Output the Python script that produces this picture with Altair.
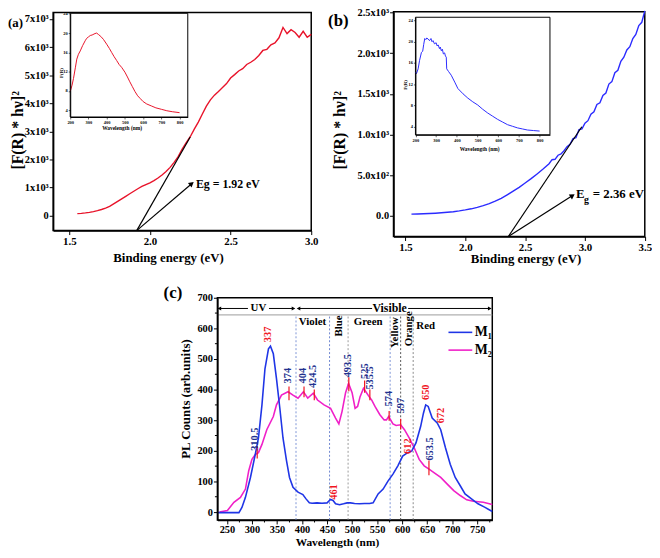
import altair as alt
import pandas as pd

SERIF = "Liberation Serif"
RED = "#e8132a"
BLUE_B = "#2b2bff"
M1_BLUE = "#1f35e6"
M2_PINK = "#f020c8"
LBL_BLUE = "#22318f"
LBL_RED = "#f0151f"

# ---------------- data: panel (a) ----------------
A_E = [1.55, 1.575, 1.60, 1.625, 1.65, 1.675, 1.70, 1.725, 1.75, 1.775, 1.80, 1.825, 1.85, 1.875,
       1.90, 1.925, 1.95, 1.975, 2.00, 2.025, 2.05, 2.075, 2.10, 2.125, 2.15, 2.175, 2.20, 2.225,
       2.25, 2.275, 2.30, 2.325, 2.35, 2.375, 2.40, 2.425, 2.45, 2.475, 2.50, 2.525, 2.55, 2.575,
       2.60, 2.625, 2.65, 2.675, 2.70, 2.725, 2.75, 2.775, 2.80, 2.825, 2.85, 2.875, 2.90, 2.925,
       2.95, 2.975, 3.00]
A_V = [75, 85, 100, 120, 145, 180, 220, 270, 330, 420, 510, 600, 690, 780,
       870, 960, 1040, 1110, 1170, 1250, 1340, 1450, 1570, 1720, 1900, 2100, 2370, 2600,
       2810, 3080, 3330, 3620, 3900, 4120, 4290, 4420, 4560, 4700, 4900, 5020, 5150, 5230,
       5380, 5460, 5560, 5700, 5880, 5920, 6080, 6150, 6330, 6700, 6480, 6620, 6520, 6350,
       6560, 6350, 6450]

# inset (a)
IA_NM = [200, 210, 218, 228, 236, 245, 255, 268, 282, 290, 300, 310, 320, 336, 345, 355, 368, 382,
         400, 415, 427, 441, 455, 468, 482, 500, 514, 527, 541, 555, 570, 585, 600, 620, 645, 670,
         700, 730, 760, 800]
IA_F = [7.9, 9.2, 10.6, 12.8, 14.6, 15.6, 16.3, 17.4, 18.4, 18.9, 19.2, 19.5, 19.6, 19.9, 20.0, 19.7,
        19.3, 18.7, 17.7, 16.8, 16.0, 15.1, 14.3, 13.5, 12.9, 11.9, 10.9, 9.9, 8.9, 7.9, 7.0, 6.4,
        5.8, 5.3, 4.9, 4.5, 4.2, 3.9, 3.7, 3.5]

# ---------------- data: panel (b) ----------------
B_E = [1.55, 1.60, 1.65, 1.70, 1.75, 1.80, 1.85, 1.90, 1.95, 2.00, 2.05, 2.10, 2.15, 2.20, 2.25,
       2.30, 2.35, 2.40, 2.45, 2.50, 2.55, 2.60, 2.65, 2.70, 2.725, 2.75, 2.775, 2.80, 2.825, 2.85,
       2.875, 2.90, 2.925, 2.95, 2.975, 3.00, 3.025, 3.05, 3.075, 3.10, 3.125, 3.15, 3.175, 3.20,
       3.225, 3.25, 3.275, 3.30, 3.325, 3.35, 3.375, 3.40, 3.425, 3.45, 3.475, 3.50]
B_V = [20, 22, 25, 28, 32, 37, 43, 50, 60, 72, 86, 103, 124, 150, 180,
       215, 258, 303, 350, 403, 457, 515, 575, 640, 690, 695, 745, 760, 800, 850,
       880, 950, 960, 1060, 1070, 1140, 1170, 1250, 1280, 1370, 1390, 1480, 1510, 1620,
       1650, 1760, 1790, 1900, 1950, 2040, 2080, 2180, 2230, 2340, 2380, 2520]

# inset (b)
IB_NM = [200, 205, 213, 220, 229, 235, 240, 245, 250, 255, 261, 268, 275, 280, 285, 292, 300, 305,
         310, 316, 320, 325, 330, 335, 341, 345, 349, 351, 360, 373, 390, 405, 430, 453, 477, 501,
         525, 549, 573, 597, 621, 645, 669, 693, 717, 741, 770, 800]
IB_F = [14.3, 14.0, 14.9, 16.5, 18.0, 18.2, 19.5, 20.6, 20.4, 20.7, 20.5, 20.2, 20.6, 20.0, 20.2,
        19.6, 19.8, 19.2, 19.4, 18.7, 19.0, 18.3, 18.6, 17.7, 17.9, 17.3, 17.1, 14.9, 14.4, 13.7,
        12.4, 11.2, 10.2, 9.4, 8.7, 8.1, 7.3, 6.6, 6.0, 5.4, 4.9, 4.4, 4.1, 3.8, 3.6, 3.4, 3.3, 3.2]

# ---------------- data: panel (c) ----------------
M1_NM = [231, 250, 274, 280, 287, 297, 306.6, 313, 320, 326, 333, 337, 342.7, 349, 355.7, 362, 369,
         375, 382, 392, 401.7, 408, 414.6, 420, 430, 440, 450, 457, 462, 467, 475, 483, 490, 497,
         505, 515, 525, 535, 542, 552, 562, 572, 581.6, 591.4, 601, 611, 619, 627.6, 637, 642.5,
         647, 652, 660, 670, 677, 686.5, 696, 706, 716, 725.6, 738.5, 751.5, 764.6, 780]
M1_PL = [-2, -2, -2, 15, 48, 113, 188, 242, 350, 468, 533, 542, 517, 436, 339, 242, 168,
         113, 81, 65, 57, 43, 30, 29, 30, 29, 30, 41, 38, 27, 24, 27, 30, 30,
         28, 27, 28, 28, 30, 59, 75, 102, 124, 151, 183, 194, 199, 226, 280, 323,
         350, 345, 307, 291, 269, 210, 156, 113, 86, 59, 43, 27, 16, 2]
M2_NM = [235, 251, 264, 277, 287, 293.6, 300, 306.6, 313, 320, 329.6, 342.7, 349, 359, 372, 382,
         392, 402.8, 411.5, 422.5, 431, 444, 457, 467, 473.6, 480, 487, 493, 500, 506, 511, 516,
         522.7, 527.5, 534, 539, 545.7, 555.5, 564, 568.6, 573, 581.6, 588, 597, 604.6, 614, 624,
         634, 644, 653.7, 663.5, 677, 689.6, 703, 716, 729, 742, 762, 780]
M2_PL = [0, 5, 32, 48, 75, 135, 172, 188, 194, 221, 269, 312, 350, 382, 393, 382,
         372, 393, 372, 388, 366, 350, 339, 307, 288, 329, 390, 420, 390, 339, 345, 377,
         404, 393, 377, 366, 345, 318, 301, 301, 312, 288, 283, 285, 269, 242, 210,
         172, 151, 140, 129, 113, 92, 70, 54, 40, 35, 32, 25]

PEAK_TEXT = ["310.5", "337", "374", "404", "424.5", "461", "493.5", "525", "535.5",
             "574", "597", "612", "650", "672", "653.5"]
PEAK_X = [306.5, 333, 372.4, 403, 423, 464, 492.7, 525.5, 536.7, 574, 597.9, 611, 648.6, 677, 655]
PEAK_Y = [200, 555, 420, 420, 405, 40, 440, 435, 400, 345, 322, 190, 366, 290, 168]
PEAK_COL = ["b", "r", "b", "b", "b", "r", "b", "b", "b", "b", "b", "r", "r", "r", "b"]

MARK_X = [310.5, 374, 404, 424.5, 493.5, 525, 535.5, 574, 597, 653.5]
MARK_Y0 = [175, 365, 375, 365, 395, 390, 365, 298, 270, 120]
MARK_Y1 = [215, 410, 410, 400, 440, 430, 400, 330, 305, 168]

REGION_X = [388, 455, 492, 576, 597, 622]
REGION_COL = ["#7f95d6", "#6f86d0", "#9a9a9a", "#7f95d6", "#555555", "#8a8a8a"]

# ---------------- geometry (page px) ----------------
W, H = 652, 542


def S(domain, r):
    return alt.Scale(domain=domain, range=[r[0] - 8, r[1] - 8], nice=False, zero=False)


PA = (S([1.4, 3.0], [53.7, 315]), S([-530, 7230], [230, 9.2]))
PB = (S([1.4, 3.5], [398.3, 652.7]), S([-255, 2510], [236, 8.4]))
IA = (S([200, 845], [71, 190]), S([2.6, 24.1], [115, 10]))
IB = (S([200, 850], [420.5, 556.7]), S([2.5, 24.6], [133, 14]))
PC = (S([231, 780], [220, 498.3]), S([-26, 700], [523, 298]))


def ax(orient, values, offset, title, tx, ty, lsize, tsize, tick=4, lpad=1, fmt=None, expr=None, dw=1.5, tw=1):
    kw = dict(orient=orient, values=values, offset=offset, title=title, titleX=tx, titleY=ty,
              grid=False, labelFont=SERIF, labelFontWeight="bold", labelFontSize=lsize,
              labelColor="black", titleFont=SERIF, titleFontWeight="bold", titleFontSize=tsize,
              titleColor="black", tickSize=tick, tickColor="black", tickWidth=tw,
              domainColor="black", domainWidth=dw, labelFlush=False, labelOverlap=False,
              labelPadding=lpad, titleAlign="center", titleBaseline="middle", zindex=1)
    if fmt:
        kw["format"] = fmt
    if expr:
        kw["labelExpr"] = expr
    return alt.Axis(**kw)


def XY(P, xa=None, ya=None, xf="x", yf="y"):
    return dict(x=alt.X(f"{xf}:Q", scale=P[0], axis=xa), y=alt.Y(f"{yf}:Q", scale=P[1], axis=ya))


def seg(P, x0, y0, x1, y1, color="black", width=1.0, dash=None):
    df = pd.DataFrame({"x": x0, "y": y0, "x2": x1, "y2": y1})
    kw = dict(color=color, strokeWidth=width)
    if dash:
        kw["strokeDash"] = dash
    return alt.Chart(df).mark_rule(**kw).encode(**XY(P), x2="x2:Q", y2="y2:Q")


def frame(P, fill=None, width=1.5):
    d = P[0].domain
    e = P[1].domain
    df = pd.DataFrame({"x": [d[0]], "y": [e[0]], "x2": [d[1]], "y2": [e[1]]})
    if fill:
        m = alt.Chart(df).mark_rect(fill=fill, stroke="black", strokeWidth=width)
    else:
        m = alt.Chart(df).mark_rect(fillOpacity=0, stroke="black", strokeWidth=width)
    return m.encode(**XY(P), x2="x2:Q", y2="y2:Q")


def txt(P, xs, ys, texts, size, color="black", align="center", baseline="middle", angle=0, dx=0, dy=0):
    df = pd.DataFrame({"x": xs, "y": ys, "t": texts})
    kw = dict(font=SERIF, fontWeight="bold", fontSize=size, color=color, align=align,
              baseline=baseline, dx=dx, dy=dy)
    if angle:
        kw["angle"] = angle
    return alt.Chart(df).mark_text(**kw).encode(**XY(P), text="t:N")


def head(P, x, y, shape, angle=0, size=40, color="black"):
    df = pd.DataFrame({"x": [x], "y": [y]})
    kw = dict(shape=shape, filled=True, size=size, color=color, opacity=1)
    if angle:
        kw["angle"] = angle
    return alt.Chart(df).mark_point(**kw).encode(**XY(P))


layers = []

# ---------- panel (a) ----------
a_xax = ax("bottom", [1.5, 2.0, 2.5, 3.0], (230 - 8) - H, "Binding energy (eV)", 162, 27, 11, 13, fmt=".1f")
a_yax = ax("left", [0, 1000, 2000, 3000, 4000, 5000, 6000, 7000], -(53.7 - 8), "[F(R) * hν]²",
           -36, 120, 10.5, 16, expr="datum.value == 0 ? '0' : format(datum.value / 1000, 'd') + 'x10³'")
layers.append(frame(PA))
layers.append(alt.Chart(pd.DataFrame({"x": A_E, "y": A_V})).mark_line(color=RED, strokeWidth=1.4)
              .encode(**XY(PA, a_xax, a_yax)))
layers.append(seg(PA, [1.918], [-530], [2.25], [2800], width=1.2))
layers.append(seg(PA, [1.918], [-530], [2.255], [1120], width=1.2))
layers.append(head(PA, 2.255, 1120, "triangle", angle=51, size=35))
layers.append(txt(PA, [2.285], [1140], ["Eg = 1.92 eV"], 12, align="left"))
layers.append(txt(PA, [1.213], [6850], ["(a)"], 13, align="right"))

# inset (a)
ia_xax = ax("bottom", [200, 300, 400, 500, 600, 700, 800], (115 - 8) - H, "Wavelength (nm)", 115, 11,
            4.5, 5.5, tick=2, lpad=1, fmt="d", dw=1, tw=0.6)
ia_yax = ax("left", [4, 8, 12, 16, 20, 24], -(71 - 8), "F(R)", -10, 62, 4.5, 5, tick=2, lpad=1,
            fmt="d", dw=1, tw=0.6)
layers.append(frame(IA, fill="white", width=1))
layers.append(alt.Chart(pd.DataFrame({"x": IA_NM, "y": IA_F})).mark_line(color=RED, strokeWidth=1)
              .encode(**XY(IA, ia_xax, ia_yax)))

# ---------- panel (b) ----------
b_xax = ax("bottom", [1.5, 2.0, 2.5, 3.0, 3.5], (236 - 8) - H, "Binding energy (eV)", 524, 22, 11, 13, fmt=".1f")
b_yax = ax("left", [0, 500, 1000, 1500, 2000, 2500], -(398.3 - 8), "[F(R) * hν]²", -55, 120, 10.5, 16,
           expr="datum.value == 0 ? '0.0' : (datum.value < 1000 ? format(datum.value / 100, '.1f') + 'x10²' : format(datum.value / 1000, '.1f') + 'x10³')")
layers.append(frame(PB))
layers.append(alt.Chart(pd.DataFrame({"x": B_E, "y": B_V})).mark_line(color=BLUE_B, strokeWidth=1.4)
              .encode(**XY(PB, b_xax, b_yax)))
layers.append(seg(PB, [2.36], [-255], [2.974], [1095], width=1.2))
layers.append(seg(PB, [2.36], [-255], [2.89], [243], width=1.2))
layers.append(head(PB, 2.89, 243, "triangle", angle=57, size=35))
layers.append(txt(PB, [2.925], [268], ["E"], 13, align="left"))
layers.append(txt(PB, [2.925], [268], ["g"], 10, align="left", dx=8, dy=6))
layers.append(txt(PB, [2.925], [268], ["= 2.36 eV"], 13, align="left", dx=17))
layers.append(txt(PB, [0.939], [2393], ["(b)"], 17))

# inset (b)
ib_xax = ax("bottom", [200, 300, 400, 500, 600, 700, 800], (133 - 8) - H, "Wavelength (nm)", 477, 14,
            4.5, 5.5, tick=2, lpad=1, fmt="d", dw=1, tw=0.6)
ib_yax = ax("left", [4, 8, 12, 16, 20, 24], -(420.5 - 8), "F(R)", -11, 74, 4.5, 5, tick=2, lpad=1,
            fmt="d", dw=1, tw=0.6)
layers.append(frame(IB, fill="white", width=1))
layers.append(alt.Chart(pd.DataFrame({"x": IB_NM, "y": IB_F})).mark_line(color=BLUE_B, strokeWidth=1)
              .encode(**XY(IB, ib_xax, ib_yax)))

# ---------- panel (c) ----------
c_xax = ax("bottom", [250, 300, 350, 400, 450, 500, 550, 600, 650, 700, 750], (523 - 8) - H,
           "Wavelength (nm)", 333, 23, 10.5, 11.5, fmt="d")
c_yax = ax("left", [0, 100, 200, 300, 400, 500, 600, 700], -(220 - 8), "PL Counts (arb.units)",
           -32, 392, 10.5, 13, fmt="d")
layers.append(frame(PC))
# minor ticks
mx = [275, 325, 375, 425, 475, 525, 575, 625, 675, 725, 775]
layers.append(alt.Chart(pd.DataFrame({"x": mx, "y": [-26] * len(mx)}))
              .mark_rule(color="black", strokeWidth=1, y2Offset=2.5)
              .encode(**XY(PC), y2="y:Q"))
my = [50, 150, 250, 350, 450, 550, 650]
layers.append(alt.Chart(pd.DataFrame({"x": [231] * len(my), "y": my}))
              .mark_rule(color="black", strokeWidth=1, x2Offset=-2.5)
              .encode(**XY(PC), x2="x:Q"))
# region dividers
for xv, col in zip(REGION_X, REGION_COL):
    layers.append(seg(PC, [xv], [-26], [xv], [641], color=col, width=1, dash=[2, 2]))
layers.append(seg(PC, [231], [644], [780], [644], color="#9a9a9a", width=1))
# UV / Visible arrows
layers.append(seg(PC, [233, 334, 392, 612], [665] * 4, [292, 384, 540, 776], [665] * 4, width=1))
layers.append(head(PC, 235, 665, "triangle-left", size=18))
layers.append(head(PC, 383, 665, "triangle-right", size=18))
layers.append(head(PC, 393, 665, "triangle-left", size=18))
layers.append(head(PC, 775, 665, "triangle-right", size=18))
layers.append(txt(PC, [313], [665], ["UV"], 11))
layers.append(txt(PC, [575], [665], ["Visible"], 12))
layers.append(txt(PC, [421, 532, 647], [622, 622, 608], ["Violet", "Green", "Red"], 11))
layers.append(txt(PC, [474, 586, 613], [608, 586, 599], ["Blue", "Yellow", "Orange"], 11, angle=270))
# curves
layers.append(alt.Chart(pd.DataFrame({"x": M2_NM, "y": M2_PL})).mark_line(color=M2_PINK, strokeWidth=1.6)
              .encode(**XY(PC)))
layers.append(alt.Chart(pd.DataFrame({"x": M1_NM, "y": M1_PL})).mark_line(color=M1_BLUE, strokeWidth=1.6)
              .encode(**XY(PC, c_xax, c_yax)))
# peak markers
layers.append(seg(PC, MARK_X, MARK_Y0, MARK_X, MARK_Y1, color=LBL_RED, width=1.2))
bx = [x for x, c in zip(PEAK_X, PEAK_COL) if c == "b"]
by = [y for y, c in zip(PEAK_Y, PEAK_COL) if c == "b"]
bt = [t for t, c in zip(PEAK_TEXT, PEAK_COL) if c == "b"]
rx = [x for x, c in zip(PEAK_X, PEAK_COL) if c == "r"]
ry = [y for y, c in zip(PEAK_Y, PEAK_COL) if c == "r"]
rt = [t for t, c in zip(PEAK_TEXT, PEAK_COL) if c == "r"]
layers.append(txt(PC, bx, by, bt, 10.5, color=LBL_BLUE, align="left", angle=270))
layers.append(txt(PC, rx, ry, rt, 10.5, color=LBL_RED, align="left", angle=270))
# legend
layers.append(seg(PC, [692.5], [587], [740], [587], color=M1_BLUE, width=1.6))
layers.append(seg(PC, [692.5], [529], [740], [529], color=M2_PINK, width=1.6))
layers.append(txt(PC, [745, 745], [587, 529], ["M₁", "M₂"], 14, align="left"))
layers.append(txt(PC, [142.2], [716], ["(c)"], 17))

chart = (alt.layer(*layers)
         .resolve_scale(x="independent", y="independent")
         .properties(width=W, height=H, autosize=alt.AutoSizeParams(type="none"), padding=0,
                     background="white")
         .configure_view(stroke="transparent"))

chart.save("out.html", embed_options={"renderer": "svg", "actions": False})
